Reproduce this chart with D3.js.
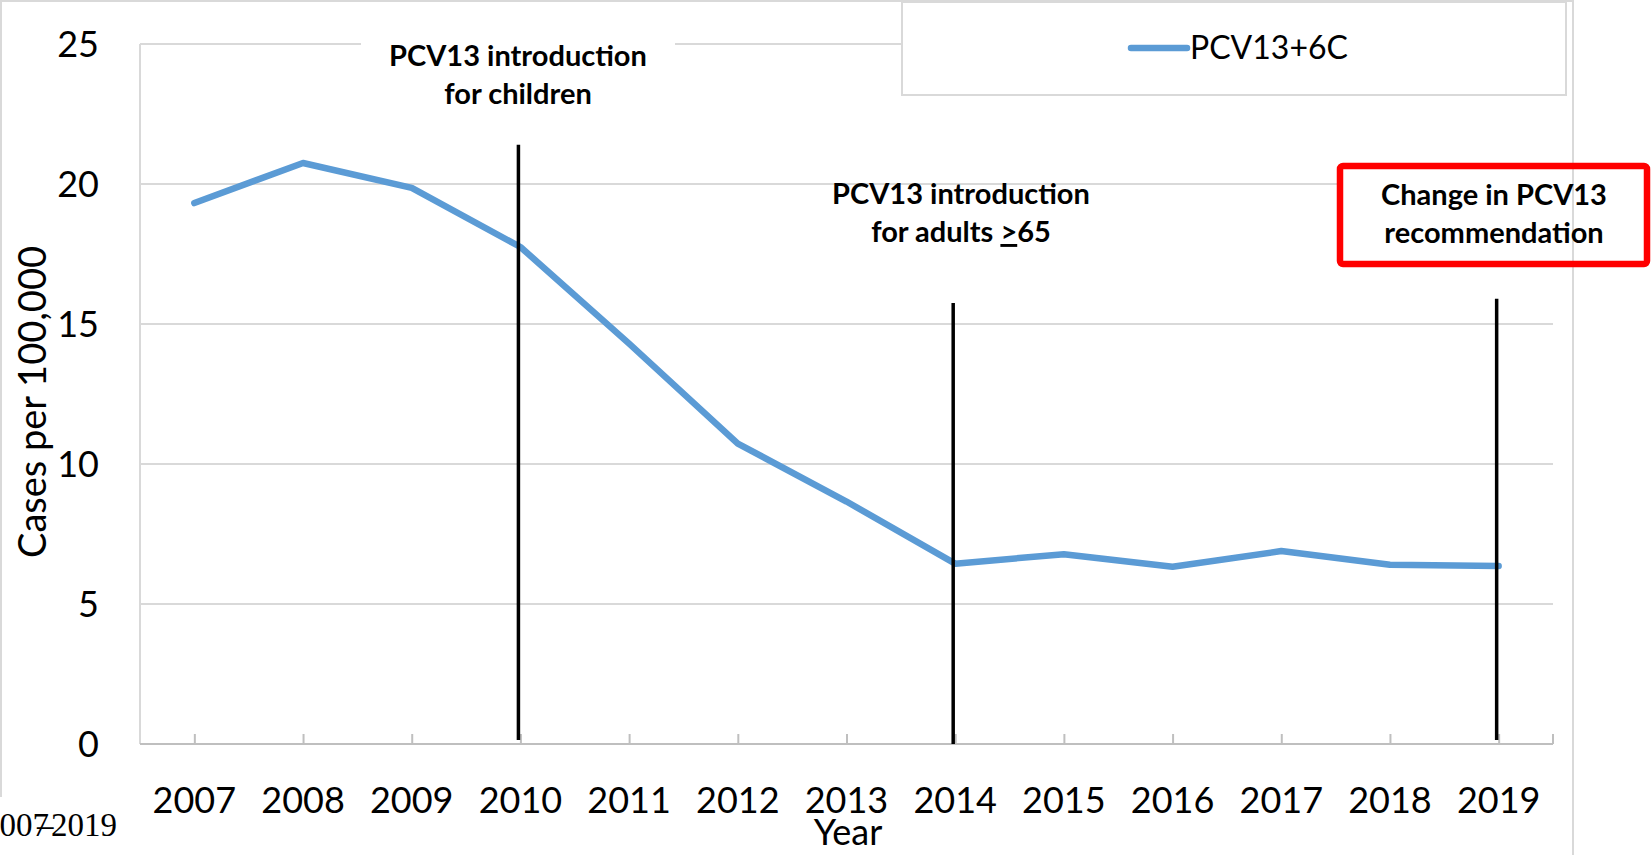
<!DOCTYPE html>
<html>
<head>
<meta charset="utf-8">
<script src="https://cdn.jsdelivr.net/npm/d3@7"></script>
<style>
  body { margin: 0; background: #fff; }
  svg { display: block; font-family: Lato, "Open Sans", sans-serif; }
</style>
</head>
<body>
<svg class="chart" width="1652" height="855"></svg>
<script>
// data
var years = [2007, 2008, 2009, 2010, 2011, 2012, 2013, 2014, 2015, 2016, 2017, 2018, 2019];
var rates = [19.32, 20.75, 19.86, 17.75, 14.3, 10.73, 8.66, 6.44, 6.78, 6.33, 6.89, 6.4, 6.36];
var yTicks = [0, 5, 10, 15, 20, 25];
var seriesName = "PCV13+6C";

// vertical marker lines: year, top value, bottom value
var markerYears = [2010, 2014, 2019];
var markerTops = [21.4, 15.75, 15.9];
var markerBottoms = [0.14, 0, 0.14];

var noteLines = [
    ["PCV13 introduction", "for children"],
    ["PCV13 introduction", "for adults "],
    ["Change in PCV13", "recommendation"]
];
var rangeLabel = ["2007", "\u2013", "2019"];

var svg = d3.select(".chart");
var margin = {top: 44, right: 99, bottom: 111, left: 140};
var W = +svg.attr("width"), H = +svg.attr("height");

var x = d3.scaleBand().domain(years).range([margin.left, W - margin.right]).padding(0);
var y = d3.scaleLinear().domain([0, 25]).range([H - margin.bottom, margin.top]);
var cx = function (yr) { return x(yr) + x.bandwidth() / 2; };

var grey = "#d9d9d9";

// gridlines
svg.append("g").selectAll("line")
    .data(yTicks.filter(function (d) { return d > 0; }))
    .enter().append("line")
    .attr("x1", x.range()[0]).attr("x2", x.range()[1])
    .attr("y1", function (d) { return y(d); }).attr("y2", function (d) { return y(d); })
    .attr("stroke", grey).attr("stroke-width", 2);

// y axis line
svg.append("line")
    .attr("x1", x.range()[0]).attr("x2", x.range()[0])
    .attr("y1", y(25)).attr("y2", y(0))
    .attr("stroke", grey).attr("stroke-width", 2);

// x axis
var xAxis = d3.axisBottom(d3.scalePoint().domain(years).range([cx(2007), cx(2019)]))
    .tickSize(-10).tickFormat("");
var gx = svg.append("g").attr("transform", "translate(0," + y(0) + ")").call(xAxis);
gx.select(".domain").remove();
gx.selectAll(".tick line").attr("stroke", "#bfbfbf").attr("stroke-width", 2);
svg.append("line")
    .attr("x1", x.range()[0]).attr("x2", x.range()[1])
    .attr("y1", y(0)).attr("y2", y(0))
    .attr("stroke", "#bfbfbf").attr("stroke-width", 2);
svg.append("line")
    .attr("x1", x.range()[1]).attr("x2", x.range()[1])
    .attr("y1", y(0) - 10).attr("y2", y(0))
    .attr("stroke", "#bfbfbf").attr("stroke-width", 2);

// x tick labels
svg.append("g").selectAll("text")
    .data(years).enter().append("text")
    .attr("x", function (d) { return cx(d); })
    .attr("y", 813)
    .attr("text-anchor", "middle")
    .style("font-size", "36px")
    .text(function (d) { return d; });

// y tick labels
svg.append("g").selectAll("text")
    .data(yTicks).enter().append("text")
    .attr("x", 99)
    .attr("y", function (d) { return y(d); })
    .attr("dy", "0.36em")
    .attr("text-anchor", "end")
    .style("font-size", "36px")
    .text(function (d) { return d; });

// axis titles
svg.append("text")
    .attr("transform", "translate(46,402) rotate(-90)")
    .attr("text-anchor", "middle")
    .style("font-size", "38px")
    .text("Cases per 100,000");
svg.append("text")
    .attr("x", 848).attr("y", 845)
    .attr("text-anchor", "middle")
    .style("font-size", "36px")
    .text("Year");

// white box behind first note, hides the top gridline
svg.append("rect")
    .attr("x", 361).attr("y", 20).attr("width", 314).attr("height", 95)
    .attr("fill", "#fff");

// data line
var line = d3.line()
    .x(function (d, i) { return cx(years[i]); })
    .y(function (d) { return y(d); });
svg.append("path")
    .datum(rates)
    .attr("d", line)
    .attr("fill", "none")
    .attr("stroke", "#5b9bd5")
    .attr("stroke-width", 6.5)
    .attr("stroke-linejoin", "round")
    .attr("stroke-linecap", "round");

// marker lines
svg.append("g").selectAll("line")
    .data(markerYears).enter().append("line")
    .attr("x1", function (d) { return cx(d) - 2; }).attr("x2", function (d) { return cx(d) - 2; })
    .attr("y1", function (d, i) { return y(markerTops[i]); })
    .attr("y2", function (d, i) { return y(markerBottoms[i]); })
    .attr("stroke", "#000").attr("stroke-width", 3.5);

// notes
function note(lines, xc, y1, y2) {
    var t = svg.append("g").style("font-size", "29px").style("font-weight", "bold")
        .attr("text-anchor", "middle");
    t.append("text").attr("x", xc).attr("y", y1).text(lines[0]);
    return t.append("text").attr("x", xc).attr("y", y2).text(lines[1]);
}
note(noteLines[0], 518, 66, 104);
var n2 = note(noteLines[1], 961, 204, 242);
n2.append("tspan").style("text-decoration", "underline").text(">");
n2.append("tspan").text("65");

// red box note
svg.append("rect")
    .attr("x", 1340).attr("y", 166).attr("width", 307).attr("height", 98)
    .attr("fill", "#fff");
// chart area border
svg.append("path")
    .attr("d", "M1,797 V1 H1573 V855")
    .attr("fill", "none").attr("stroke", grey).attr("stroke-width", 2);
svg.append("rect")
    .attr("x", 1340).attr("y", 166).attr("width", 307).attr("height", 98)
    .attr("rx", 3)
    .attr("fill", "none").attr("stroke", "#ff0000").attr("stroke-width", 6.5);
note(noteLines[2], 1494, 205, 243);

// legend
var lg = svg.append("g");
lg.append("rect")
    .attr("x", 902).attr("y", 2).attr("width", 664).attr("height", 93)
    .attr("fill", "#fff").attr("stroke", grey).attr("stroke-width", 2);
lg.append("line")
    .attr("x1", 1131).attr("x2", 1187).attr("y1", 48).attr("y2", 48)
    .attr("stroke", "#5b9bd5").attr("stroke-width", 6.5).attr("stroke-linecap", "round");
lg.append("text")
    .attr("x", 1190).attr("y", 59)
    .style("font-size", "32px")
    .text(seriesName);

// cut-off range label, bottom left
var rl = svg.append("g").style("font-family", "'Liberation Serif', serif").style("font-size", "33px");
rl.append("text").attr("x", 49).attr("y", 836).attr("text-anchor", "end").text(rangeLabel[0]);
rl.append("text").attr("x", 37).attr("y", 836).text(rangeLabel[1]);
rl.append("text").attr("x", 51).attr("y", 836).text(rangeLabel[2]);
</script>
</body>
</html>
